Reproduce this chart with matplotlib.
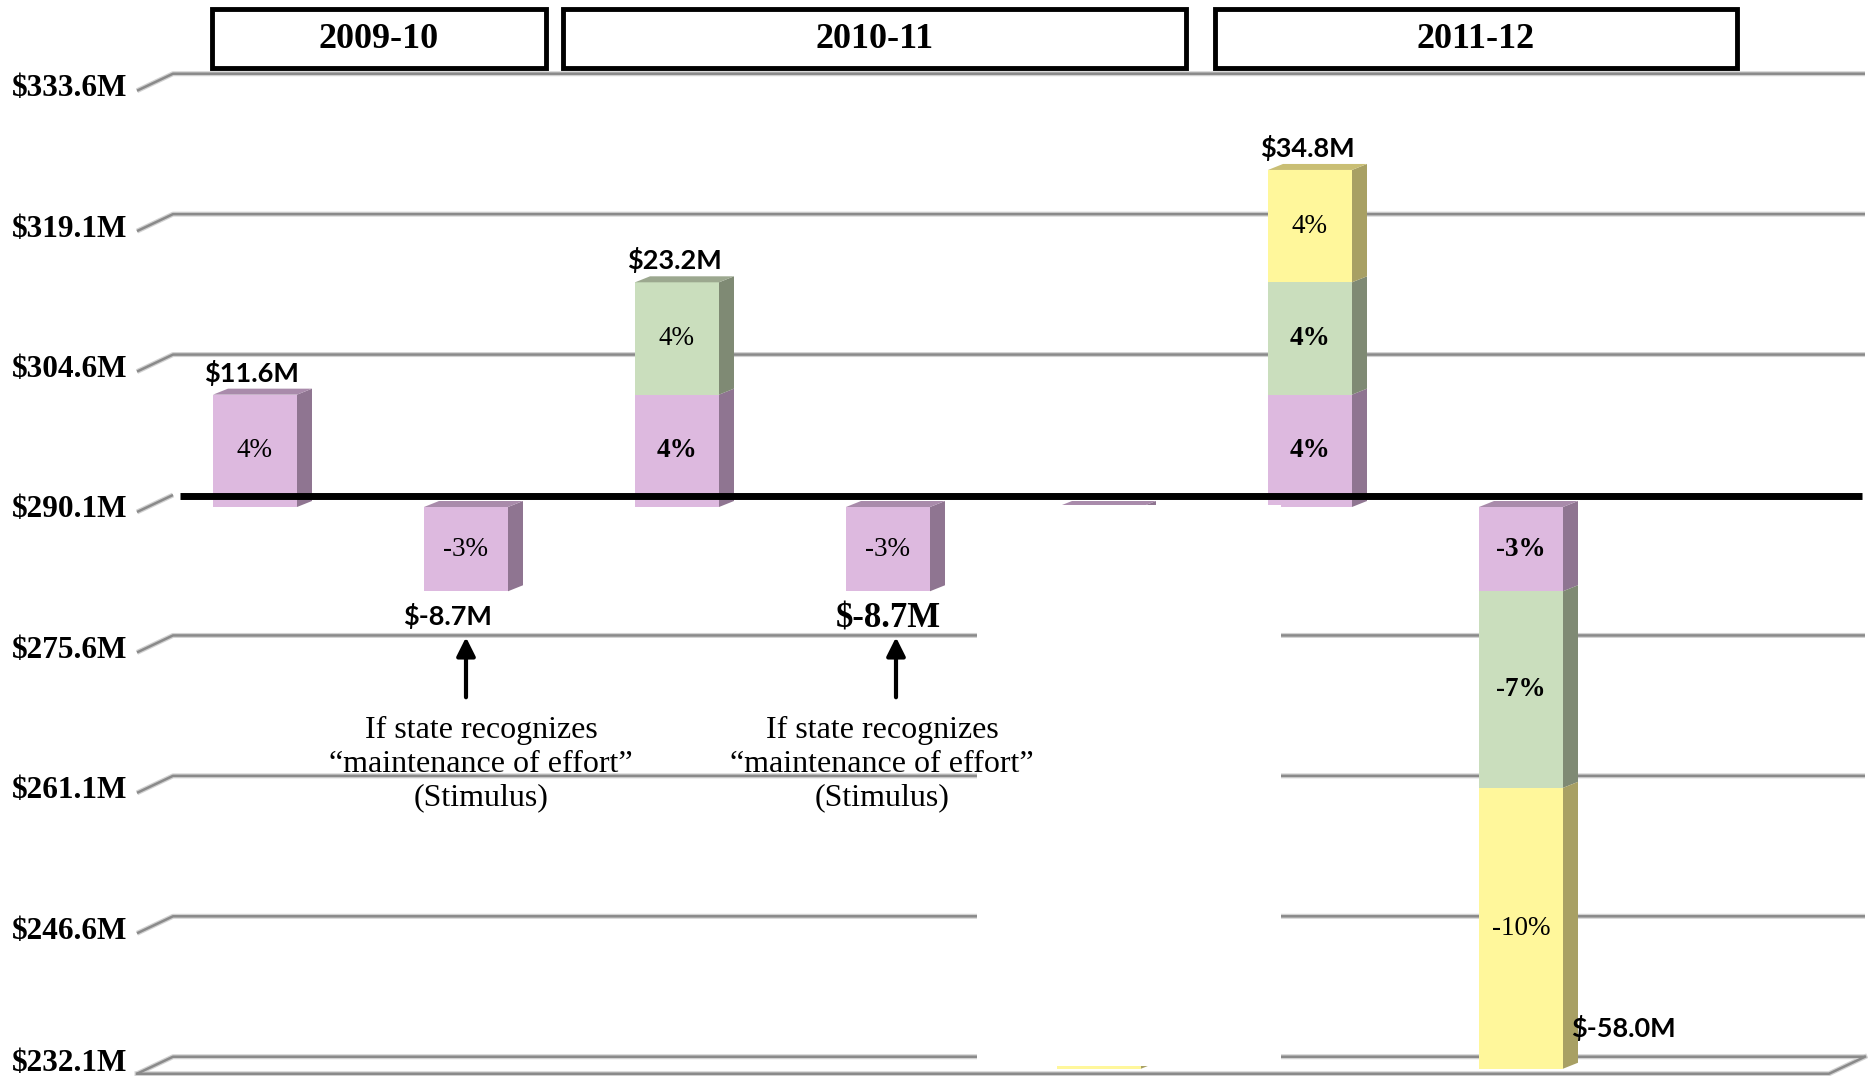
import matplotlib
matplotlib.use("Agg")
import matplotlib.pyplot as plt
import matplotlib.transforms as mtransforms
from matplotlib.patches import Polygon, Rectangle

# ---------------- data ----------------
base_value = 290.1
tick_values = [333.6, 319.1, 304.6, 290.1, 275.6, 261.1, 246.6, 232.1]

# change from the base, in $M, per stacked component (7 scenario columns)
purple_vals = [11.6, -8.7, 11.6, -8.7, -8.7, 11.6, -8.7]
green_vals = [0.0, 0.0, 11.6, 0.0, -20.3, 11.6, -20.3]
yellow_vals = [0.0, 0.0, 0.0, 0.0, -29.0, 11.6, -29.0]

purple_pct = ["4%", "-3%", "4%", "-3%", "", "4%", "-3%"]
green_pct = ["", "", "4%", "", "", "4%", "-7%"]
yellow_pct = ["", "", "", "", "", "4%", "-10%"]

purple_bold = [False, False, True, False, False, True, True]
green_bold = [False, False, False, False, False, True, True]
yellow_bold = [False, False, False, False, False, False, False]

show_total = [True, True, True, True, False, True, True]

year_groups = ["2009-10", "2010-11", "2011-12"]
note_text = "If state recognizes\n\u201cmaintenance of effort\u201d\n(Stimulus)"
note_bars = [1, 3]

# ---------------- layout ----------------
W, H, DPI = 1868, 1076, 100
fig = plt.figure(figsize=(W / DPI, H / DPI), dpi=DPI)
ax = fig.add_axes([0, 0, 1, 1])
ax.set_axis_off()

PPX = 211.0          # pixels per category
PPY = 9.685          # pixels per $M
X0 = 255.0           # pixel of first category centre
Y0 = 507.0           # pixel (from top) of the base value on the front plane
xmin, xmax = -X0 / PPX, (W - X0) / PPX
ymin, ymax = base_value - (H - Y0) / PPY, base_value + Y0 / PPY
ax.set_xlim(xmin, xmax)
ax.set_ylim(ymin, ymax)


def dx(px):
    return px / PPX


def dy(px):
    return px / PPY


blend_xaxes = mtransforms.blended_transform_factory(ax.transAxes, ax.transData)
blend_yaxes = mtransforms.blended_transform_factory(ax.transData, ax.transAxes)

SERIF = "Liberation Serif"
SANS = "Lato"
BACK = 12      # depth of the back wall, px
FRONT = 5      # floor edge in front of the bars, px

# ---------------- walls, gridlines, floor ----------------
for k, v in enumerate(tick_values):
    xs = [137 / W, 173 / W, 1865 / W]
    ys = [v - dy(FRONT), v + dy(BACK), v + dy(BACK)]
    if v == base_value:
        xs, ys = xs[:2], ys[:2]
    ax.plot(xs, ys, transform=blend_xaxes, color="#d2d2d2", lw=3.6,
            solid_capstyle="butt", zorder=1)
    ax.plot(xs, ys, transform=blend_xaxes, color="#8a8a8a", lw=1.8,
            solid_capstyle="butt", zorder=1.1)
    # label sits on the front edge; the lowest one is lifted to stay inside
    ly = v + (dy(5) if k == len(tick_values) - 1 else -dy(3))
    ax.text(12 / W, ly, f"${v:.1f}M", transform=blend_xaxes, ha="left",
            va="center", fontfamily=SERIF, fontweight="bold", fontsize=22.5,
            zorder=6)

floor_v = tick_values[-1]
fx = [137 / W, 1829 / W, 1865 / W]
fy = [floor_v - dy(FRONT), floor_v - dy(FRONT), floor_v + dy(BACK)]
ax.plot(fx, fy, transform=blend_xaxes, color="#d2d2d2", lw=3.6, zorder=1)
ax.plot(fx, fy, transform=blend_xaxes, color="#8a8a8a", lw=1.8, zorder=1.1)

# ---------------- 3D stacked columns ----------------
BW = 84 / PPX
DEPTH_X, DEPTH_Y = dx(15), dy(6)

series = [
    (purple_vals, purple_pct, purple_bold, "#ddb9df", "#8f7591", "#a98bab"),
    (green_vals, green_pct, green_bold, "#cadebd", "#7f8a74", "#9ca88f"),
    (yellow_vals, yellow_pct, yellow_bold, "#fff79b", "#a8a064", "#c9be74"),
]

totals = []
for i in range(len(purple_vals)):
    pos_b, neg_b = base_value, base_value
    top_color = None
    for vals, pcts, bolds, front, side, top in series:
        v = vals[i]
        if v == 0:
            continue
        if v > 0:
            lo, hi = pos_b, pos_b + v
            pos_b = hi
            top_color = top
        else:
            lo, hi = neg_b + v, neg_b
            neg_b = lo
            if top_color is None:
                top_color = top
        ax.bar(i, hi - lo, bottom=lo, width=BW, color=front, linewidth=0,
               zorder=3)
        xr = i + BW / 2
        ax.add_patch(Polygon([(xr, lo), (xr, hi), (xr + DEPTH_X, hi + DEPTH_Y),
                              (xr + DEPTH_X, lo + DEPTH_Y)], closed=True,
                             facecolor=side, edgecolor="none", zorder=3))
        if pcts[i]:
            ax.text(i, (lo + hi) / 2, pcts[i], ha="center", va="center",
                    fontfamily=SERIF, fontsize=19.5,
                    fontweight="bold" if bolds[i] else "normal", zorder=6)
    yt = pos_b if pos_b > base_value else base_value
    xl, xr = i - BW / 2, i + BW / 2
    ax.add_patch(Polygon([(xl, yt), (xr, yt), (xr + DEPTH_X, yt + DEPTH_Y),
                          (xl + DEPTH_X, yt + DEPTH_Y)], closed=True,
                         facecolor=top_color, edgecolor="none", zorder=3))
    totals.append((pos_b - base_value) + (neg_b - base_value))

# white cover over the middle column and the wall behind it
ax.add_patch(Rectangle((4 - dx(122), floor_v + dy(3)), dx(304),
                       (base_value + dy(2)) - (floor_v + dy(3)),
                       facecolor="white", edgecolor="none", zorder=4))

# thick base line on the back wall
ax.plot([180 / W, 1862 / W], [base_value + dy(11.5)] * 2,
        transform=blend_xaxes, color="black", lw=5, solid_capstyle="butt",
        zorder=5)

# ---------------- total labels ----------------
for i, t in enumerate(totals):
    if not show_total[i]:
        continue
    label = f"${t:.1f}M"
    if i == 6:
        ax.text(i + BW / 2 + dx(8), base_value + t + dy(41), label,
                ha="left", va="center", fontfamily=SANS, fontweight="bold",
                fontsize=19.5, zorder=6)
    elif t > 0:
        ax.text(i - dx(3), base_value + t + dy(9), label, ha="center",
                va="bottom", fontfamily=SANS, fontweight="bold", fontsize=19.5,
                zorder=6)
    elif i == 3:
        ax.text(i, base_value + t - dy(11), label, ha="center", va="top",
                fontfamily=SERIF, fontweight="bold", fontsize=25, zorder=6)
    else:
        ax.text(i - dx(18), base_value + t - dy(12), label, ha="center",
                va="top", fontfamily=SANS, fontweight="bold", fontsize=19.5,
                zorder=6)

# ---------------- notes with arrows ----------------
for i, xoff_arrow, xoff_text in zip(note_bars, [0, dx(8)], [dx(15), dx(-6)]):
    bottom = base_value + totals[i]
    ax.annotate("", xy=(i + xoff_arrow, bottom - dy(46)),
                xytext=(i + xoff_arrow, bottom - dy(106)),
                arrowprops=dict(arrowstyle="-|>", color="black", lw=3,
                                mutation_scale=28, shrinkA=0, shrinkB=0),
                zorder=6)
    ax.text(i + xoff_text, base_value - dy(257), note_text, ha="center",
            va="center", fontfamily=SERIF, fontsize=23, linespacing=1.2,
            zorder=6)

# ---------------- year headers ----------------
header_spans = [(-0.204, 1.379), (1.460, 4.412), (4.550, 7.024)]
for name, (a, b) in zip(year_groups, header_spans):
    ax.add_patch(Rectangle((a, 1 - 68 / H), b - a, 59 / H,
                           transform=blend_yaxes, facecolor="white",
                           edgecolor="black", lw=3.5, zorder=6))
    ax.text((a + b) / 2, 1 - 40 / H, name, transform=blend_yaxes,
            ha="center", va="center", fontfamily=SERIF, fontweight="bold",
            fontsize=26, zorder=7)

fig.savefig("out.png", dpi=DPI, facecolor="white")
